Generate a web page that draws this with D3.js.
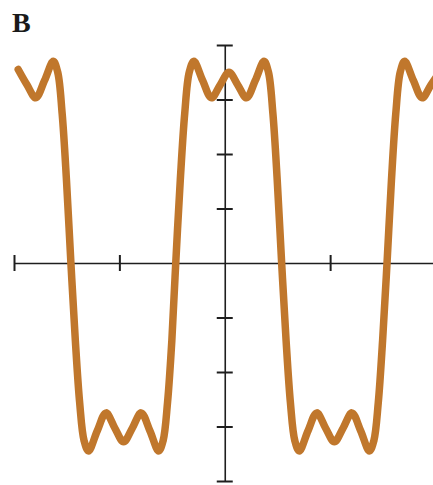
<!DOCTYPE html>
<html>
<head>
<meta charset="utf-8">
<script src="https://cdn.jsdelivr.net/npm/d3@7"></script>
<style>
  html, body { margin: 0; padding: 0; background: #fff; }
  svg { display: block; }
  .axis path, .axis line { stroke: #1e1e1e; stroke-width: 1.6px; }
</style>
</head>
<body>
<div id="chart"></div>
<script>
// values (x in tick units, y in tick units)
var xVals = [-1.96, -1.877, -1.793, -1.71, -1.627, -1.585, -1.543, -1.502, -1.46,
  -1.418, -1.377, -1.335, -1.293, -1.21, -1.127, -1.043, -0.96, -0.877, -0.793, -0.71, -0.627, -0.585, -0.543, -0.502, -0.465,
  -0.422, -0.38, -0.337, -0.293, -0.21, -0.127, -0.043, 0.04, 0.123, 0.207, 0.29, 0.373, 0.415, 0.457, 0.498, 0.54,
  0.582, 0.623, 0.665, 0.707, 0.79, 0.873, 0.957, 1.04, 1.123, 1.207, 1.29, 1.373, 1.415, 1.457, 1.498, 1.54,
  1.582, 1.623, 1.665, 1.707, 1.79, 1.873, 1.957, 2.04];
var yVals = [3.55, 3.27, 3.03, 3.35, 3.70, 3.50, 2.74, 1.52, 0,
  -1.42, -2.56, -3.26, -3.45, -3.08, -2.75, -3.03, -3.28, -3.03, -2.75, -3.08, -3.45, -3.26, -2.56, -1.42, 0,
  1.52, 2.74, 3.50, 3.70, 3.35, 3.03, 3.27, 3.50, 3.27, 3.03, 3.35, 3.70, 3.50, 2.74, 1.52, 0,
  -1.42, -2.56, -3.26, -3.45, -3.08, -2.75, -3.03, -3.28, -3.03, -2.75, -3.08, -3.45, -3.26, -2.56, -1.42, 0,
  1.52, 2.74, 3.50, 3.70, 3.35, 3.03, 3.27, 3.50];
var xTicks = [-2, -1, 1, 2];
var yTicks = [-4, -3, -2, -1, 1, 2, 3, 4];
var panelLabel = "B";

var width = 433;
var height = 485;

var xScale = d3.scaleLinear()
  .domain([-2, 2])
  .range([14, 435.5]);

var yScale = d3.scaleLinear()
  .domain([-4, 4])
  .range([481, 45]);

var svg = d3.select("#chart").append("svg")
  .attr("width", width)
  .attr("height", height);

// x axis, ticks crossing the line
var xAxis = d3.axisBottom(xScale)
  .tickValues(xTicks)
  .tickSizeInner(8)
  .tickSizeOuter(0)
  .tickFormat("");

var gx = svg.append("g")
  .attr("class", "axis x")
  .attr("transform", "translate(0," + yScale(0) + ")")
  .call(xAxis);
gx.selectAll(".tick line").attr("y1", -8).attr("y2", 8).style("stroke-width", "2px");

// y axis
var yAxis = d3.axisLeft(yScale)
  .tickValues(yTicks)
  .tickSizeInner(8)
  .tickSizeOuter(0)
  .tickFormat("");

var gy = svg.append("g")
  .attr("class", "axis y")
  .attr("transform", "translate(" + xScale(0) + ",0)")
  .call(yAxis);
gy.selectAll(".tick line").attr("x1", -8).attr("x2", 8).style("stroke-width", "2px");

// the wave
var pts = xVals.map(function(d, i) { return [d, yVals[i]]; });

var line = d3.line()
  .x(function(d) { return xScale(d[0]); })
  .y(function(d) { return yScale(d[1]); })
  .curve(d3.curveCatmullRom.alpha(0.5));

svg.append("path")
  .datum(pts)
  .attr("d", line)
  .attr("fill", "none")
  .attr("stroke", "#c0772c")
  .attr("stroke-width", 7.5)
  .attr("stroke-linecap", "round")
  .attr("stroke-linejoin", "round");

svg.append("text")
  .attr("x", 12)
  .attr("y", 32)
  .style("font-family", "'Liberation Serif', 'DejaVu Serif', serif")
  .style("font-size", "28px")
  .style("font-weight", "bold")
  .style("fill", "#1a1a1a")
  .text(panelLabel);
</script>
</body>
</html>
